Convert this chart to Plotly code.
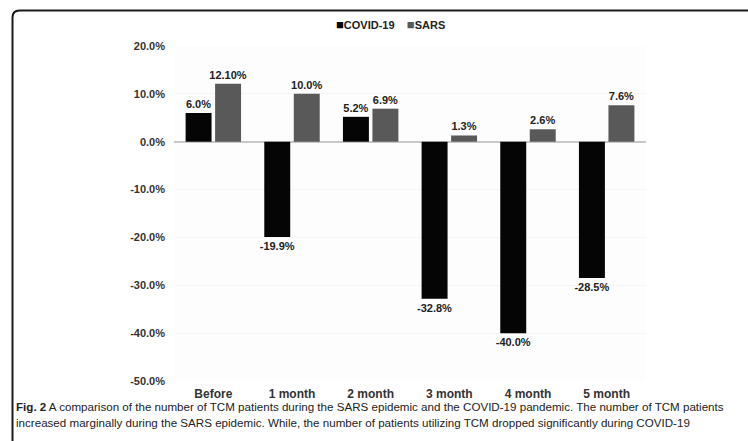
import plotly.graph_objects as go

# Change in TCM patient numbers, by period
periods = ["Before", "1 month", "2 month", "3 month", "4 month", "5 month"]
covid_values = [6.0, -19.9, 5.2, -32.8, -40.0, -28.5]
sars_values = [12.10, 10.0, 6.9, 1.3, 2.6, 7.6]
covid_decimals = [1, 1, 1, 1, 1, 1]
sars_decimals = [2, 1, 1, 1, 1, 1]
y_ticks = [20, 10, 0, -10, -20, -30, -40, -50]

covid_color = "#050505"
sars_color = "#595959"

W, H = 748, 441
L, R, T, B = 174, 102, 46, 60
PW, PH = W - L - R, H - T - B


def px_x(p):
    return (p - L) / PW


def px_y(p):
    return (H - B - p) / PH


def labels(vals, decs):
    return [f"<b>{v:.{d}f}%</b>" for v, d in zip(vals, decs)]


font_main = "Liberation Sans Narrow, Arial Narrow, Liberation Sans, DejaVu Sans Condensed, sans-serif"

fig = go.Figure()
fig.add_trace(go.Bar(
    name="COVID-19", x=periods, y=covid_values,
    marker=dict(color=covid_color, line=dict(width=0)),
    text=labels(covid_values, covid_decimals), textposition="outside",
    constraintext="none",
    textfont=dict(family=font_main, size=11, color="#222222"),
    cliponaxis=False, showlegend=False,
))
fig.add_trace(go.Bar(
    name="SARS", x=periods, y=sars_values,
    marker=dict(color=sars_color, line=dict(width=0)),
    text=labels(sars_values, sars_decimals), textposition="outside",
    constraintext="none",
    textfont=dict(family=font_main, size=11, color="#222222"),
    cliponaxis=False, showlegend=False,
))

# Compact key above the plot
sq = "<span style='color:{c};font-size:13px'>■</span>"
key_text = (sq.format(c=covid_color) + "COVID-19&nbsp;&nbsp;&nbsp;&nbsp;"
            + sq.format(c=sars_color) + "SARS")

# Rounded figure frame
r = 7
x0, y0 = 12.5, 10.5
x1, y1 = 770, 460
frame = (f"M {px_x(x0)} {px_y(y1)} L {px_x(x0)} {px_y(y0 + r)} "
         f"Q {px_x(x0)} {px_y(y0)} {px_x(x0 + r)} {px_y(y0)} "
         f"L {px_x(x1)} {px_y(y0)}")

caption1 = ("<b>Fig. 2</b> A comparison of the number of TCM patients during the SARS epidemic "
            "and the COVID-19 pandemic. The number of TCM patients")
caption2 = ("increased marginally during the SARS epidemic. While, the number of patients "
            "utilizing TCM dropped significantly during COVID-19")

fig.update_layout(
    width=W, height=H,
    margin=dict(l=L, r=R, t=T, b=B),
    paper_bgcolor="white", plot_bgcolor="#fdfdfd",
    barmode="group", bargap=0.25, bargroupgap=0.12,
    font=dict(family=font_main, color="#333333"),
    xaxis=dict(
        showgrid=False, showline=False, ticks="", ticklabelstandoff=4,
        tickfont=dict(family=font_main, size=12, color="#333333", weight="bold"),
    ),
    yaxis=dict(
        range=[-50, 20], tickvals=y_ticks,
        ticktext=[f"{v:.1f}%" for v in y_ticks],
        showgrid=True, gridcolor="#f4f4f4", gridwidth=1,
        zeroline=True, zerolinecolor="#c8c8c8", zerolinewidth=2,
        ticks="", ticklabelstandoff=8,
        tickfont=dict(family=font_main, size=11, color="#333333", weight="bold"),
    ),
    shapes=[dict(type="path", xref="paper", yref="paper", path=frame,
                 line=dict(color="#1a1a1a", width=2))],
    annotations=[
        dict(xref="paper", yref="paper", x=px_x(390), y=px_y(25), xanchor="center",
             yanchor="middle", text=key_text, showarrow=False,
             font=dict(family=font_main, size=11, color="#222222", weight="bold")),
        dict(xref="paper", yref="paper", x=px_x(14), y=px_y(407), xanchor="left",
             yanchor="middle", text=caption1, showarrow=False,
             font=dict(family=font_main, size=11.6, color="#222222")),
        dict(xref="paper", yref="paper", x=px_x(14), y=px_y(422), xanchor="left",
             yanchor="middle", text=caption2, showarrow=False,
             font=dict(family=font_main, size=11.6, color="#222222")),
    ],
)

fig.write_html("out.html")
